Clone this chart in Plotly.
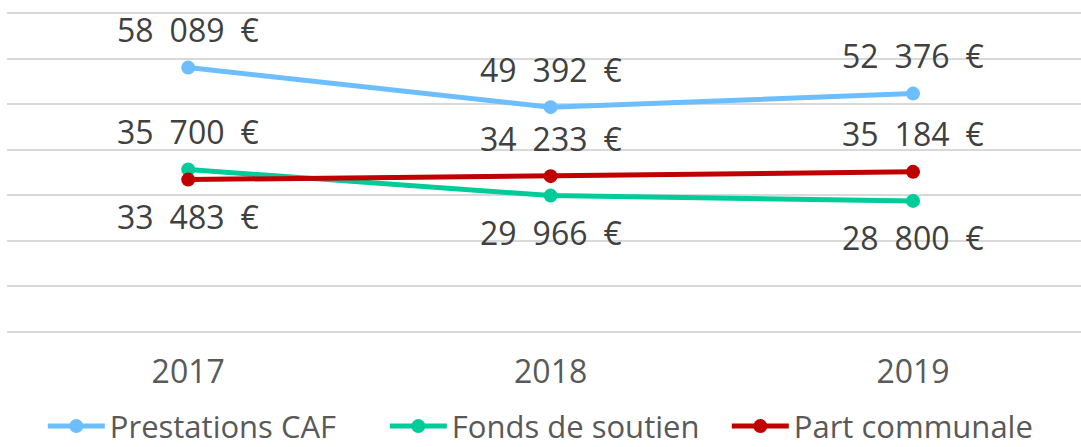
import plotly.graph_objects as go

years = ["2017", "2018", "2019"]
prestations_caf = [58089, 49392, 52376]
fonds_soutien = [35700, 29966, 28800]
part_communale = [33483, 34233, 35184]

series = [
    ("Prestations CAF", prestations_caf, "#6DBEFF"),
    ("Fonds de soutien", fonds_soutien, "#00CC99"),
    ("Part communale", part_communale, "#C00000"),
]

FONT = "Open Sans"


def euro(v):
    # French grouping with an en space as thousands separator
    s = f"{v:,}".replace(",", "\u2002")
    return f"{s}\u2002€"


fig = go.Figure()
for name, vals, color in series:
    fig.add_trace(go.Scatter(
        x=years, y=vals, name=name, mode="lines+markers",
        line=dict(color=color, width=5),
        marker=dict(color=color, size=14),
        cliponaxis=False,
    ))

# value labels: CAF always above; of the two lower series, the higher one
# gets its label above and the lower one below
annotations = []
for i in range(len(years)):
    placements = [(prestations_caf[i], 1)]
    if fonds_soutien[i] >= part_communale[i]:
        placements += [(fonds_soutien[i], 1), (part_communale[i], -1)]
    else:
        placements += [(part_communale[i], 1), (fonds_soutien[i], -1)]
    for v, side in placements:
        annotations.append(dict(
            x=i, y=v, xref="x", yref="y", text=euro(v), showarrow=False,
            yanchor="middle", yshift=38 if side > 0 else -37,
            font=dict(family=FONT, size=32, color="#404040"),
        ))

fig.update_layout(
    width=1081, height=447,
    margin=dict(l=7, r=0, t=12, b=115, autoexpand=False),
    paper_bgcolor="white", plot_bgcolor="white",
    font=dict(family=FONT, size=32, color="#595959"),
    showlegend=True,
    legend=dict(
        orientation="h", x=0.511, xanchor="center",
        yref="container", y=0.046, yanchor="middle",
        font=dict(family=FONT, size=31, color="#595959"),
        entrywidth=270, entrywidthmode="pixels", itemwidth=57,
    ),
    annotations=annotations,
    xaxis=dict(
        type="category", range=[-0.5, 2.4634], showgrid=False,
        showline=False, ticks="", ticklabelstandoff=18, automargin=False,
        tickfont=dict(family=FONT, size=32, color="#595959"),
    ),
    yaxis=dict(
        range=[0, 70300], tick0=0, dtick=10000, showgrid=True,
        gridcolor="#D9D9D9", gridwidth=2,
        zeroline=True, zerolinecolor="#D9D9D9", zerolinewidth=2,
        showticklabels=False, showline=False, automargin=False,
    ),
)

fig.write_html("out.html")
